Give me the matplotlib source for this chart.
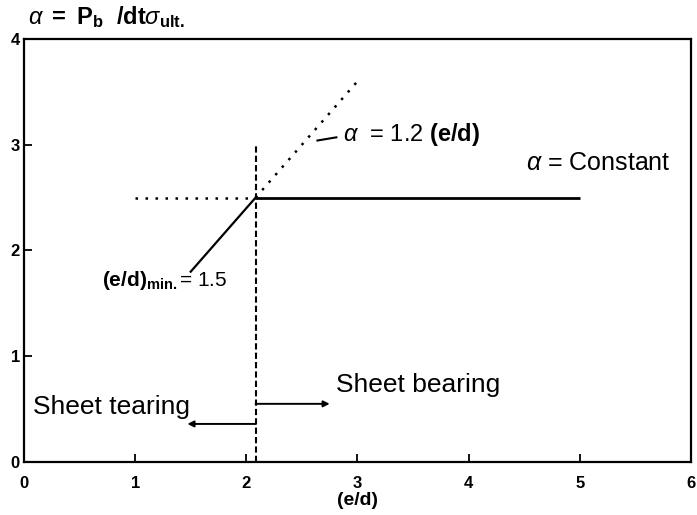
import matplotlib
matplotlib.use("Agg")
import matplotlib.pyplot as plt

plt.rcParams['font.family'] = ['Liberation Sans', 'DejaVu Sans']
plt.rcParams['mathtext.fontset'] = 'custom'
plt.rcParams['mathtext.rm'] = 'Liberation Sans'
plt.rcParams['mathtext.it'] = 'Liberation Sans:italic'
plt.rcParams['mathtext.bf'] = 'Liberation Sans:bold'

# Bearing-strength design curve: alpha = P_b / (d t sigma_ult)
ed_constant = [2.5 / 1.2, 5.0]        # alpha = constant (sheet bearing)
alpha_constant = [2.5, 2.5]
ed_constant_ext = [1.0, 2.5 / 1.2]    # dotted extension of the plateau
alpha_constant_ext = [2.5, 2.5]
ed_linear = [1.5, 2.5 / 1.2]          # alpha = 1.2 (e/d), solid part
alpha_linear = [1.8, 2.5]
ed_linear_ext = [2.5 / 1.2, 3.0]      # alpha = 1.2 (e/d), dotted extension
alpha_linear_ext = [2.5, 3.6]
ed_transition = 2.5 / 1.2             # tearing / bearing boundary
alpha_transition_top = 3.0

x_ticks = [0, 1, 2, 3, 4, 5, 6]
y_ticks = [0, 1, 2, 3, 4]

fig = plt.figure(figsize=(6.97, 5.15), dpi=100)
ax = fig.add_axes([0.0344, 0.1029, 0.957, 0.8214])

ax.plot(ed_constant, alpha_constant, color='black', lw=2.0, solid_capstyle='butt')
ax.plot(ed_constant_ext, alpha_constant_ext, color='black', lw=1.8,
        linestyle=(0, (1, 3)))
ax.plot(ed_linear, alpha_linear, color='black', lw=1.6)
ax.plot(ed_linear_ext, alpha_linear_ext, color='black', lw=1.8,
        linestyle=(0, (1, 3)))
ax.plot([ed_transition, ed_transition], [0, alpha_transition_top],
        color='black', lw=1.5, linestyle=(0, (3, 1.5)))

# short leader next to the linear-law label
ax.plot([2.64, 2.81], [3.04, 3.07], color='black', lw=1.5)

# arrows for the failure regions
ax.annotate('', xy=(1.47, 0.36), xytext=(ed_transition, 0.36),
            arrowprops=dict(arrowstyle='-|>', color='black', lw=1.4,
                            mutation_scale=9, shrinkA=0, shrinkB=0))
ax.annotate('', xy=(2.75, 0.55), xytext=(ed_transition, 0.55),
            arrowprops=dict(arrowstyle='-|>', color='black', lw=1.4,
                            mutation_scale=9, shrinkA=0, shrinkB=0))

ax.text(0.08, 0.52, 'Sheet tearing', fontsize=19, va='center', ha='left')
ax.text(2.81, 0.73, 'Sheet bearing', fontsize=19, va='center', ha='left')
ax.text(4.52, 2.83, r'$\alpha$ = Constant', fontsize=18, va='center', ha='left')
ax.text(2.87, 3.10, r'$\alpha$  = 1.2 $\mathbf{(e/d)}$', fontsize=17,
        va='center', ha='left')
ax.text(0.70, 1.72, r'$\mathbf{(e/d)_{min.}}$= 1.5', fontsize=15,
        va='center', ha='left')

ax.text(0.006, 1.052, r'$\alpha$ $\mathbf{=\ P_b}$  $\mathbf{/dt}\sigma_{\mathbf{ult.}}$',
        transform=ax.transAxes, fontsize=17, va='center', ha='left')

ax.set_xlim(0, 6)
ax.set_ylim(0, 4)
ax.set_xticks(x_ticks)
ax.set_yticks(y_ticks)
ax.set_xticklabels([str(v) for v in x_ticks], fontweight='heavy', fontsize=12)
ax.set_yticklabels([str(v) for v in y_ticks], fontweight='heavy', fontsize=12)
ax.tick_params(axis='x', direction='in', length=6, width=1.3, pad=10)
ax.tick_params(axis='y', direction='in', length=6, width=1.3, pad=3)
ax.set_xlabel('(e/d)', fontweight='bold', fontsize=14, labelpad=1)

for s in ax.spines.values():
    s.set_linewidth(1.6)

fig.savefig('out.png', dpi=100)
